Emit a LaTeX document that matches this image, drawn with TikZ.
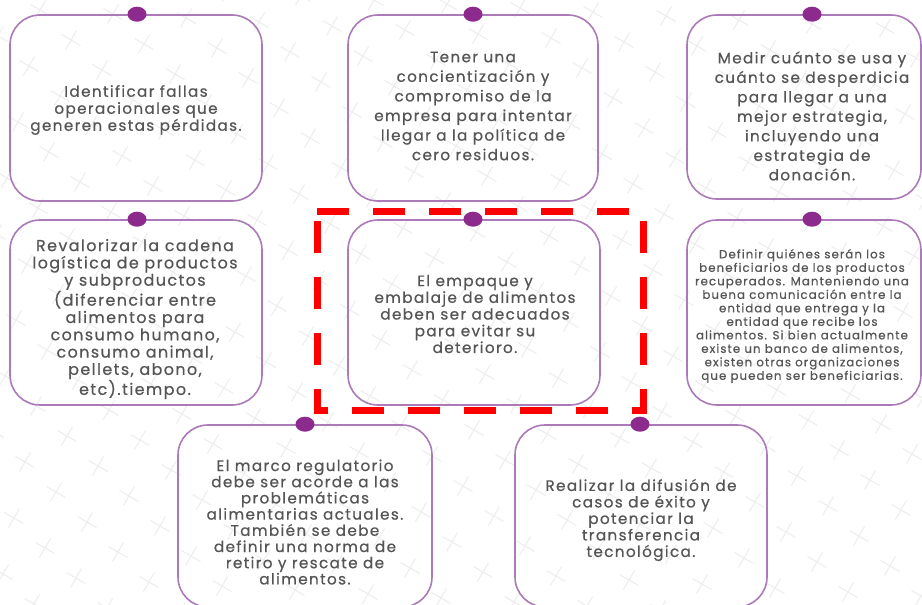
\documentclass[tikz,border=0pt]{standalone}
\usepackage{fontspec}
\setmainfont{Poppins}[LetterSpace=9, FakeBold=0.6]
\usetikzlibrary{shapes.geometric}
\definecolor{boxline}{RGB}{172,122,184}
\definecolor{dotc}{RGB}{140,42,142}
\definecolor{txtc}{RGB}{85,85,85}
\definecolor{crossc}{RGB}{238,238,238}
\definecolor{hlred}{RGB}{255,0,0}
\begin{document}
\begin{tikzpicture}[x=1pt,y=-1pt,
  card/.style={draw=boxline, line width=1.6pt, rounded corners=30pt, inner sep=0pt},
  pin/.style={ellipse, fill=dotc, draw=none, minimum width=19pt, minimum height=15pt, inner sep=0pt},
  cardtext/.style={text=txtc, align=center, font=\fontsize{15.2}{#1}\selectfont},
  cardtext/.default=17,
  bigtext/.style={text=txtc, align=center, font=\fontsize{15.9}{17.3}\selectfont},
  smalltext/.style={text=txtc, align=center, font=\fontsize{11.8}{13.5}\selectfont},
  crossline/.style={draw=crossc, line width=1.1pt},
  highlight/.style={draw=hlred, line width=7pt, dash pattern=on 32pt off 24pt}
]
\useasboundingbox (0,0) rectangle (922,605);
\clip (0,0) rectangle (922,605);
\fill[white] (0,0) rectangle (922,605);
% background crosses
\foreach \i in {-10,...,22}{
  \foreach \j in {-17,...,6}{
    \pgfmathsetmacro\cx{25+73*\i+31*\j}
    \pgfmathsetmacro\cy{462+4*\i+30*\j}
    \draw[crossline] (\cx-9.5,\cy-5.5) -- (\cx+9.5,\cy+5.5)
                     (\cx-5.5,\cy+9.5) -- (\cx+5.5,\cy-9.5);
  }
}
% cards
\node[card, minimum width=252pt, minimum height=186pt] (b1) at (136,108) {};
\node[card, minimum width=250pt, minimum height=186pt] (b2) at (473,108) {};
\node[card, minimum width=234pt, minimum height=184pt] (b3) at (804,107) {};
\node[card, minimum width=252pt, minimum height=185pt] (b4) at (136,312.5) {};
\node[card, minimum width=252pt, minimum height=185pt] (b5) at (474,312.5) {};
\node[card, minimum width=234pt, minimum height=185pt] (b6) at (804,312.5) {};
\node[card, minimum width=254pt, minimum height=182pt] (b7) at (305,516) {};
\node[card, minimum width=252pt, minimum height=182pt] (b8) at (641,516) {};
% pins
\foreach \b/\x in {b1/137,b2/473,b3/812,b4/137,b5/473,b6/812,b7/305,b8/640}{
  \node[pin] (p\b) at (\x,0 |- \b.north) {};
}
% texts
\node[cardtext] (t1) at (136,110) {Identificar fallas\\operacionales que\\generen estas pérdidas.};
\node[cardtext=19.6] (t2) at (473,106) {Tener una\\concientización y\\compromiso de la\\empresa para intentar\\llegar a la política de\\cero residuos.};
\node[cardtext=19.5] (t3) at (812,116) {Medir cuánto se usa y\\cuánto se desperdicia\\para llegar a una\\mejor estrategia,\\incluyendo una\\estrategia de\\donación.};
\node[bigtext] (t4) at (135,319) {Revalorizar la cadena\\logística de productos\\y subproductos\\(diferenciar entre\\alimentos para\\consumo humano,\\consumo animal,\\pellets, abono,\\etc).tiempo.};
\node[cardtext=16.7] (t5) at (475,314) {El empaque y\\embalaje de alimentos\\deben ser adecuados\\para evitar su\\deterioro.};
\node[smalltext] (t6) at (802,316) {Definir quiénes serán los\\beneficiarios de los productos\\recuperados. Manteniendo una\\buena comunicación entre la\\entidad que entrega y la\\entidad que recibe los\\alimentos. Si bien actualmente\\existe un banco de alimentos,\\existen otras organizaciones\\que pueden ser beneficiarias.};
\node[cardtext=16.2] (t7) at (305,522) {El marco regulatorio\\debe ser acorde a las\\problemáticas\\alimentarias actuales.\\También se debe\\definir una norma de\\retiro y rescate de\\alimentos.};
\node[cardtext=16.5] (t8) at (641,520) {Realizar la difusión de\\casos de éxito y\\potenciar la\\transferencia\\tecnológica.};
% red dashed highlight
\coordinate (h1) at (317,211);
\coordinate (h2) at (643,410);
\draw[highlight] (h1) -- (h1 -| h2) -- (h2) -- (h2 -| h1) -- cycle;
\end{tikzpicture}
\end{document}
